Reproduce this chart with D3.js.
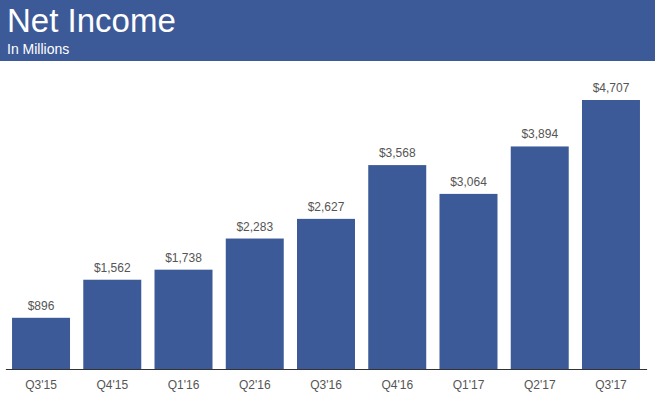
<!DOCTYPE html>
<html>
<head>
<meta charset="utf-8">
<script src="https://cdn.jsdelivr.net/npm/d3@7"></script>
<style>
  body { margin: 0; background: #fff; }
  svg { display: block; font-family: "Liberation Sans", Arial, sans-serif; }
</style>
</head>
<body>
<div id="chart"></div>
<script>
const quarters = ["Q3'15", "Q4'15", "Q1'16", "Q2'16", "Q3'16", "Q4'16", "Q1'17", "Q2'17", "Q3'17"];
const netIncome = [896, 1562, 1738, 2283, 2627, 3568, 3064, 3894, 4707];

const W = 655, H = 396;
const baseY = 369;

const svg = d3.select("#chart").append("svg")
    .attr("width", W).attr("height", H);

// Bandeau titre
svg.append("rect").attr("x", 0).attr("y", 0).attr("width", W).attr("height", 61)
    .attr("fill", "#3d5a98");
svg.append("text").attr("x", 7).attr("y", 32)
    .attr("fill", "#fff").style("font-size", "33px")
    .text("Net Income");
svg.append("text").attr("x", 7).attr("y", 54)
    .attr("fill", "#fff").style("font-size", "14px")
    .text("In Millions");

const x = d3.scaleBand().domain(quarters).range([5.4, 646.6]).paddingInner(0.186).paddingOuter(0.093);
const y = d3.scaleLinear().domain([0, 4707]).range([baseY, 100]);

const data = quarters.map((q, i) => ({q, v: netIncome[i]}));

svg.selectAll(".bar").data(data).join("rect")
    .attr("class", "bar")
    .attr("x", d => x(d.q))
    .attr("y", d => y(d.v))
    .attr("width", x.bandwidth())
    .attr("height", d => y(0) - y(d.v))
    .attr("fill", "#3d5a98");

svg.selectAll(".val").data(data).join("text")
    .attr("class", "val")
    .attr("x", d => x(d.q) + x.bandwidth() / 2)
    .attr("y", d => y(d.v) - 8)
    .attr("text-anchor", "middle")
    .attr("fill", "#555")
    .style("font-size", "12px")
    .text(d => "$" + d3.format(",")(d.v));

// Axe X
const xAxis = svg.append("g")
    .attr("transform", `translate(0,${baseY})`)
    .call(d3.axisBottom(x).tickSize(0).tickPadding(11));
xAxis.select(".domain").attr("stroke", "#333").attr("stroke-width", 1.2);
xAxis.selectAll("text")
    .style("font-size", "12px")
    .style("font-family", "'Liberation Sans', Arial, sans-serif")
    .attr("fill", "#555");
</script>
</body>
</html>
